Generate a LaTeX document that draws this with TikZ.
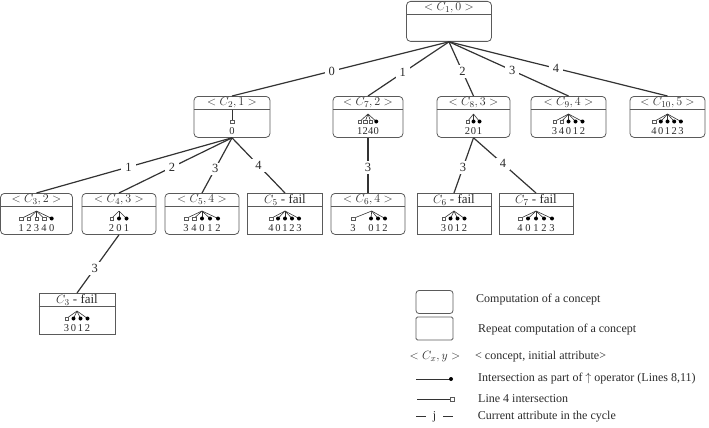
\documentclass[tikz,border=0pt]{standalone}
\usepackage{fontspec}
\setmainfont{Liberation Serif}
\usetikzlibrary{calc}
\definecolor{ln}{HTML}{333333}
\definecolor{bx}{HTML}{5a5a5a}
\definecolor{tx}{HTML}{2a2a2a}
\tikzset{
  box/.style={draw=bx, line width=0.8pt, rounded corners=4pt, inner sep=0pt, anchor=north},
  failbox/.style={box, sharp corners},
  divl/.style={draw=bx, line width=0.8pt},
  conn/.style={draw=ln, line width=1.2pt},
  elab/.style={fill=white, text=tx, font=\fontsize{12.5}{14}\selectfont, inner xsep=4pt, inner ysep=2pt},
  blab/.style={text=tx, font=\fontsize{13}{15}\selectfont, inner sep=0pt},
  dig/.style={text=tx, font=\fontsize{10.5}{12}\selectfont, inner sep=0pt},
  fanl/.style={draw=ln, line width=0.6pt},
  sqm/.style={draw=bx, fill=white, line width=0.4pt, minimum size=3.4pt, inner sep=0pt},
  dotm/.style={circle, fill=black, minimum size=4pt, inner sep=0pt},
  legt/.style={text=tx, font=\fontsize{12}{14}\selectfont, anchor=west, inner sep=0pt},
  legl/.style={draw=ln, line width=0.9pt},
}
\newcommand{\cbox}[7]{%
  \node[#1, minimum width=#5pt, minimum height=#6pt] (#2) at (#3,#4) {};
  \draw[divl] ([yshift=-13.5pt]#2.north west) -- ([yshift=-13.5pt]#2.north east);
  \node[blab] (#2-lab) at ([yshift=-7pt]#2.north) {#7};
}
\newcommand{\fan}[4]{%
  \coordinate (#1-apex) at ([xshift=#2pt,yshift=-#3pt]#1.north);
  \foreach \xo/\tp/\dg [count=\k] in {#4} {
    \coordinate (#1-m\k) at ([xshift=\xo pt,yshift=-25.5pt]#1.north);
    \draw[fanl] (#1-apex) -- (#1-m\k);
    \if s\tp \node[sqm] (#1-q\k) at (#1-m\k) {};\else \node[dotm] (#1-q\k) at (#1-m\k) {};\fi
    \node[dig] (#1-d\k) at ([xshift=\xo pt,yshift=-35pt]#1.north) {\dg};
  }
}
\begin{document}
\begin{tikzpicture}[x=1pt,y=-1pt]
\useasboundingbox (0,0) rectangle (709,428);
% boxes
\cbox{box}{c1}{449}{1}{85}{40}{$<C_1,0>$}
\cbox{box}{c2}{232}{96}{76}{41}{$<C_2,1>$}
\cbox{box}{c7}{368}{96}{70}{41}{$<C_7,2>$}
\cbox{box}{c8}{473.5}{96}{73}{41}{$<C_8,3>$}
\cbox{box}{c9}{568.5}{96}{75}{41}{$<C_9,4>$}
\cbox{box}{c10}{667.5}{96}{75}{41}{$<C_{10},5>$}
\cbox{box}{c3}{36.5}{193}{72}{41}{$<C_3,2>$}
\cbox{box}{c4}{119}{193}{74}{41}{$<C_4,3>$}
\cbox{box}{c5}{202}{193}{74}{41}{$<C_5,4>$}
\cbox{failbox}{c5f}{285}{193}{75}{41}{$C_5$ - fail}
\cbox{box}{c6}{368}{193}{74}{41}{$<C_6,4>$}
\cbox{failbox}{c6f}{454}{193}{74}{41}{$C_6$ - fail}
\cbox{failbox}{c7f}{536}{193}{74}{41}{$C_7$ - fail}
\cbox{failbox}{c3f}{77}{293}{76}{41}{$C_3$ - fail}
% contents
\fan{c2}{0}{13.5}{0/s/0}
\fan{c7}{0}{18}{-8.25/s/1,-2.75/s/2,2.75/s/4,8.25/d/0}
\fan{c8}{0}{18}{-6/s/2,0/d/0,6/d/1}
\fan{c9}{0}{18}{-14/s/3,-7/s/4,0/d/0,7/d/1,14/d/2}
\fan{c10}{0}{18}{-13.4/s/4,-6.7/d/0,0/d/1,6.7/d/2,13.4/d/3}
\fan{c3}{0}{18}{-15.2/s/1,-7.6/s/2,0/s/3,7.6/s/4,15.2/d/0}
\fan{c4}{0}{18}{-7.5/s/2,0/d/0,7.5/d/1}
\fan{c5}{0}{18}{-16/s/3,-8/s/4,0/d/0,8/d/1,16/d/2}
\fan{c5f}{0}{18}{-14/s/4,-7/d/0,0/d/1,7/d/2,14/d/3}
\fan{c6}{3.7}{18}{-15/s/3,3/d/0,10/d/1,17/d/2}
\fan{c6f}{0}{18}{-10.5/s/3,-3.5/d/0,3.5/d/1,10.5/d/2}
\fan{c7f}{0}{18}{-16/s/4,-8/d/0,0/d/1,8/d/2,16/d/3}
\fan{c3f}{0}{18}{-10.5/s/3,-3.5/d/0,3.5/d/1,10.5/d/2}
% connectors
\draw[conn] (c1.south) -- node[elab,pos=.54] (e0) {0} (c2.north);
\draw[conn] (c1.south) -- node[elab,pos=.57] (e1) {1} (c7.north);
\draw[conn] (c1.south) -- node[elab,pos=.55] (e2) {2} (c8.north);
\draw[conn] (c1.south) -- node[elab,pos=.53] (e3) {3} (c9.north);
\draw[conn] (c1.south) -- node[elab,pos=.49] (e4) {4} (c10.north);
\draw[conn] (c2.south) -- node[elab,pos=.53] (f1) {1} (c3.north);
\draw[conn] (c2.south) -- node[elab,pos=.53] (f2) {2} (c4.north);
\draw[conn] (c2.south) -- node[elab,pos=.56] (f3) {3} (c5.north);
\draw[conn] (c2.south) -- node[elab,pos=.5] (f4) {4} (c5f.north);
\draw[conn] (c7.south) -- node[elab,pos=.54] (g3) {3} (c6.north);
\draw[conn] (c8.south) -- node[elab,pos=.54] (h3) {3} (c6f.north);
\draw[conn] (c8.south) -- node[elab,pos=.47] (h4) {4} (c7f.north);
\draw[conn] (c4.south) -- node[elab,pos=.58] (k3) {3} (c3f.north);
% legend
\node[box, anchor=center, minimum width=37pt, minimum height=23pt, rounded corners=3pt] (lb1) at (434.5,302) {};
\node[box, anchor=center, minimum width=37pt, minimum height=23pt, rounded corners=1.5pt] (lb2) at (434.5,328.5) {};
\node[legt] (lt1) at (476,299.5) {Computation of a concept};
\node[legt] (lt2) at (478,330) {Repeat computation of a concept};
\node[blab] (lcx) at (435,357) {$<C_x,y>$};
\node[legt] (lt3) at (475,357) {< concept, initial attribute>};
\coordinate (ld1) at (416,379); \coordinate (ld2) at (451,379);
\draw[legl] (ld1) -- (ld2); \node[dotm] (ldm) at (ld2) {};
\node[legt] (lt4) at (478,379) {Intersection as part of $\uparrow$ operator (Lines 8,11)};
\coordinate (ls1) at (417,399); \coordinate (ls2) at (452,399);
\draw[legl] (ls1) -- (ls2); \node[sqm] (lsm) at (ls2) {};
\node[legt] (lt5) at (478,399) {Line 4 intersection};
\node[legt, anchor=center] (lj) at (434.5,416.5) {j};
\coordinate (lja) at (416,416.5); \coordinate (ljb) at (426,416.5);
\coordinate (ljc) at (443,416.5); \coordinate (ljd) at (453,416.5);
\draw[legl] (lja) -- (ljb); \draw[legl] (ljc) -- (ljd);
\node[legt] (lt6) at (477.7,416.5) {Current attribute in the cycle};
\end{tikzpicture}
\end{document}
